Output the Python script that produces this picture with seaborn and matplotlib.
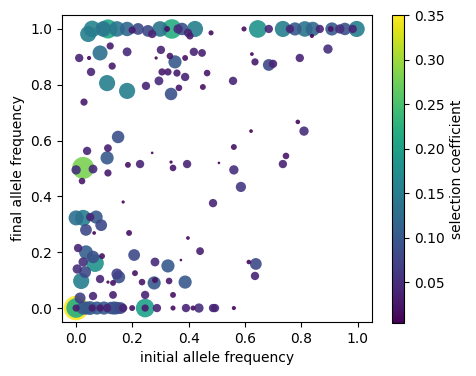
import numpy as np
import pandas as pd
import matplotlib
matplotlib.use("Agg")
import matplotlib.pyplot as plt
import seaborn as sns
from matplotlib.colors import Normalize

# initial allele frequency, final allele frequency, selection coefficient
initial = [
    0.043, 0.057, 0.096, 0.113, 0.145, 0.181, 0.199, 0.22, 0.255, 0.27,
    0.298, 0.323, 0.34, 0.362, 0.376, 0.404, 0.397, 0.422, 0.479, 0.596,
    0.645, 0.684, 0.734, 0.759, 0.777, 0.812, 0.84, 0.837, 0.865, 0.904,
    0.908, 0.936, 0.954, 0.982, 0.996,
    0.624, 0.635, 0.684, 0.699, 0.794, 0.894, 0.557, 0.621, 0.787, 0.809,
    0.56, 0.745, 0.734, 0.507, 0.56, 0.585, 0.613, 0.638, 0.635, 0.56,
    0.493, 0.486,
    0.011, 0.046, 0.085, 0.121, 0.181, 0.301, 0.284, 0.333, 0.351, 0.387,
    0.418, 0.447, 0.053, 0.128, 0.11, 0.181, 0.248, 0.294, 0.305, 0.326,
    0.358, 0.387, 0.337, 0.365, 0.465, 0.45, 0.028, 0.149, 0.039, 0.113,
    0.27, 0.11, 0.0, 0.06, 0.025, 0.021, 0.113, 0.184, 0.227, 0.337,
    0.344, 0.394,
    0.167, 0.0, 0.025, 0.05, 0.071, 0.089, 0.035, 0.064, 0.188, 0.397,
    0.44, 0.007, 0.035, 0.06, 0.092, 0.067, 0.025, 0.004, 0.032, 0.206,
    0.28, 0.326, 0.372, 0.018, 0.085, 0.145, 0.152, 0.209, 0.234, 0.277,
    0.28, 0.33, 0.387, 0.131, 0.113, 0.245, 0.344, 0.06, 0.131, 0.014,
    0.0, 0.0, 0.0, 0.025, 0.05, 0.057, 0.074, 0.085, 0.099, 0.11,
    0.124, 0.145, 0.167, 0.199, 0.245, 0.245, 0.287, 0.344, 0.39, 0.415,
    0.436, 0.486, 0.037, 0.135, 0.158,
]
final = [
    0.982, 1.0, 1.0, 1.0, 1.0, 1.0, 0.996, 1.0, 0.993, 0.982,
    1.0, 1.0, 1.0, 1.0, 1.0, 0.975, 0.986, 1.0, 0.986, 1.0,
    1.0, 1.0, 1.0, 1.0, 1.0, 1.0, 1.0, 0.975, 1.0, 1.0,
    1.0, 1.0, 1.0, 1.0, 1.0,
    0.91, 0.882, 0.871, 0.875, 0.896, 0.928, 0.814, 0.634, 0.667, 0.634,
    0.577, 0.545, 0.516, 0.52, 0.495, 0.434, 0.165, 0.158, 0.115, 0.0,
    0.0, 0.376,
    0.896, 0.896, 0.914, 0.939, 0.918, 0.925, 0.896, 0.903, 0.882, 0.896,
    0.918, 0.914, 0.846, 0.867, 0.806, 0.778, 0.796, 0.814, 0.846, 0.846,
    0.842, 0.828, 0.767, 0.789, 0.842, 0.792, 0.738, 0.613, 0.563, 0.573,
    0.556, 0.538, 0.495, 0.498, 0.502, 0.455, 0.484, 0.513, 0.516, 0.523,
    0.502, 0.516,
    0.38, 0.323, 0.323, 0.326, 0.326, 0.297, 0.28, 0.269, 0.269, 0.251,
    0.204, 0.215, 0.2, 0.183, 0.186, 0.161, 0.165, 0.14, 0.129, 0.19,
    0.165, 0.151, 0.172, 0.097, 0.104, 0.122, 0.111, 0.125, 0.093, 0.09,
    0.1, 0.097, 0.093, 0.09, 0.093, 0.047, 0.047, 0.043, 0.047, 0.036,
    0.0, 0.0, 0.0, 0.0, 0.0, 0.0, 0.0, 0.0, 0.0, 0.0,
    0.0, 0.0, 0.0, 0.0, 0.0, 0.0, 0.0, 0.0, 0.0, 0.0,
    0.0, 0.0, 0.0, 0.0, 0.0,
]
selection = [
    0.15, 0.16, 0.14, 0.21, 0.14, 0.12, 0.03, 0.08, 0.08, 0.04,
    0.14, 0.02, 0.22, 0.05, 0.09, 0.03, 0.04, 0.15, 0.015, 0.015,
    0.18, 0.04, 0.15, 0.04, 0.1, 0.14, 0.12, 0.01, 0.04, 0.02,
    0.1, 0.05, 0.09, 0.04, 0.15,
    0.008, 0.03, 0.08, 0.04, 0.04, 0.05, 0.04, 0.008, 0.012, 0.05,
    0.02, 0.025, 0.04, 0.004, 0.05, 0.06, 0.012, 0.08, 0.04, 0.01,
    0.04, 0.04,
    0.04, 0.01, 0.13, 0.03, 0.045, 0.04, 0.006, 0.025, 0.1, 0.02,
    0.04, 0.035, 0.04, 0.03, 0.15, 0.15, 0.04, 0.045, 0.03, 0.03,
    0.03, 0.04, 0.09, 0.025, 0.025, 0.02, 0.03, 0.09, 0.04, 0.035,
    0.004, 0.1, 0.05, 0.045, 0.28, 0.025, 0.03, 0.02, 0.04, 0.006,
    0.025, 0.04,
    0.006, 0.13, 0.15, 0.04, 0.1, 0.08, 0.08, 0.008, 0.02, 0.008,
    0.035, 0.04, 0.11, 0.09, 0.02, 0.18, 0.05, 0.05, 0.08, 0.08,
    0.045, 0.1, 0.004, 0.15, 0.04, 0.07, 0.09, 0.02, 0.025, 0.1,
    0.02, 0.025, 0.1, 0.02, 0.006, 0.04, 0.02, 0.04, 0.035, 0.07,
    0.35, 0.22, 0.03, 0.1, 0.11, 0.03, 0.1, 0.03, 0.1, 0.04,
    0.09, 0.09, 0.04, 0.02, 0.2, 0.03, 0.04, 0.015, 0.04, 0.015,
    0.05, 0.04, 0.1, 0.1, 0.08,
]

df = pd.DataFrame({"initial": initial, "final": final, "s": selection})
# big markers first so the small ones stay visible on top
df = df.sort_values("s", ascending=False)

norm = Normalize(vmin=min(selection), vmax=max(selection))

fig = plt.figure(figsize=(4.76, 3.76), dpi=100)
ax = fig.add_axes([0.1303, 0.1436, 0.651, 0.8165])
cax = fig.add_axes([0.8235, 0.1410, 0.0252, 0.8190])

sns.scatterplot(data=df, x="initial", y="final", hue="s", size="s",
                palette="viridis", hue_norm=norm,
                sizes=(0, 315), size_norm=(0, 0.35),
                linewidth=0, alpha=0.9, legend=False, ax=ax)

ax.set_xlim(-0.05, 1.05)
ax.set_ylim(-0.05, 1.05)
ax.set_xlabel("initial allele frequency")
ax.set_ylabel("final allele frequency")

sm = plt.cm.ScalarMappable(norm=norm, cmap="viridis")
fig.colorbar(sm, cax=cax, label="selection coefficient")

fig.savefig("out.png", dpi=100)
